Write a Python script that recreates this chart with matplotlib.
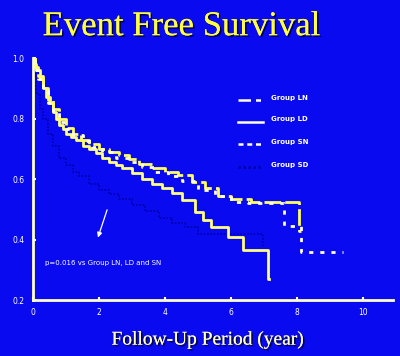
import matplotlib.pyplot as plt
import matplotlib.patheffects as pe

# Kaplan-Meier style step data (years, survival)
ln_t = [0, 0.05, 0.15, 0.3, 0.45, 0.6, 0.8, 1.0, 1.2, 1.45, 1.7, 2.0, 2.3, 2.6, 2.9, 3.2, 3.6, 4.0, 4.4, 4.8, 5.2, 5.6, 6.0, 6.6, 8.05, 8.1]
ln_s = [1.0, 0.97, 0.94, 0.90, 0.86, 0.83, 0.80, 0.77, 0.75, 0.73, 0.715, 0.70, 0.69, 0.68, 0.665, 0.65, 0.636, 0.625, 0.615, 0.59, 0.57, 0.545, 0.535, 0.525, 0.43, 0.43]

ld_t = [0, 0.05, 0.1, 0.2, 0.3, 0.4, 0.5, 0.6, 0.7, 0.8, 0.9, 1.0, 1.15, 1.3, 1.5, 1.7, 1.9, 2.1, 2.3, 2.5, 2.7, 3.0, 3.3, 3.6, 3.9, 4.2, 4.5, 4.9, 5.15, 5.4, 5.9, 6.37, 7.12, 7.14]
ld_s = [1.0, 0.98, 0.96, 0.93, 0.90, 0.87, 0.85, 0.82, 0.80, 0.78, 0.765, 0.75, 0.74, 0.73, 0.71, 0.70, 0.685, 0.67, 0.655, 0.645, 0.635, 0.62, 0.60, 0.585, 0.57, 0.555, 0.53, 0.49, 0.464, 0.44, 0.41, 0.365, 0.27, 0.27]

sn_t = [0, 0.05, 0.15, 0.3, 0.45, 0.6, 0.8, 1.0, 1.2, 1.5, 1.8, 2.1, 2.5, 2.9, 3.3, 3.7, 4.1, 4.5, 5.0, 5.5, 6.0, 6.5, 7.6, 8.1, 9.4]
sn_s = [0.99, 0.96, 0.93, 0.89, 0.85, 0.82, 0.79, 0.765, 0.745, 0.725, 0.705, 0.69, 0.67, 0.655, 0.64, 0.625, 0.61, 0.595, 0.565, 0.545, 0.525, 0.52, 0.445, 0.36, 0.36]

sd_t = [0, 0.05, 0.1, 0.2, 0.3, 0.45, 0.6, 0.8, 1.0, 1.2, 1.4, 1.7, 2.0, 2.3, 2.6, 3.0, 3.4, 3.8, 4.2, 4.6, 5.0, 6.95, 6.97]
sd_s = [1.0, 0.94, 0.88, 0.83, 0.80, 0.75, 0.71, 0.67, 0.645, 0.625, 0.61, 0.585, 0.565, 0.55, 0.535, 0.515, 0.495, 0.47, 0.455, 0.44, 0.42, 0.38, 0.38]

xticks = [0, 2, 4, 6, 8, 10]
yticks = [0.2, 0.4, 0.6, 0.8, 1.0]

bg = "#0a0af0"
fig = plt.figure(figsize=(4.0, 3.56), dpi=100, facecolor=bg)
ax = fig.add_axes([0.0825, 0.157, 0.9, 0.68])
ax.set_facecolor(bg)

ax.step(sd_t, sd_s, where="post", color="#0000a8", lw=1.2, ls=(0, (1, 1)))
ax.step(ld_t, ld_s, where="post", color="#ffff80", lw=2.0)
ax.step(ln_t, ln_s, where="post", color="#ffff60", lw=2.0, ls=(0, (6, 1.5)))
ax.step(sn_t, sn_s, where="post", color="#ffffe8", lw=2.0, ls=(0, (1.5, 2.5)))

# legend drawn by hand
leg_y = [0.86, 0.79, 0.715, 0.64]
leg_lab = ["Group LN", "Group LD", "Group SN", "Group SD"]
leg_style = [(0, (5, 2, 2, 2)), "-", (0, (2, 1.5)), (0, (1, 1))]
leg_col = ["white", "white", "white", "#0000a8"]
for yy, lab, st, c in zip(leg_y, leg_lab, leg_style, leg_col):
    ax.plot([6.2, 6.95], [yy, yy], color=c, lw=1.8, ls=st)
    ax.text(7.2, yy + 0.008, lab, color="white", fontsize=5, va="center", fontweight="bold")

ax.text(0.36, 0.322, "p=0.016 vs Group LN, LD and SN", color="white", fontsize=5, va="center")
ax.annotate("", xy=(1.94, 0.398), xytext=(2.27, 0.507),
            arrowprops=dict(arrowstyle="-|>", color="white", lw=0.9, mutation_scale=7))

ax.set_xlim(0, 10.9)
ax.set_ylim(0.2, 1.0)
ax.set_xticks(xticks)
ax.set_yticks(yticks)
ax.set_xticklabels([str(v) for v in xticks])
ax.set_yticklabels(["%.1f" % v for v in yticks])
ax.tick_params(colors="white", labelsize=5.5, length=2, width=1.5, direction="in", pad=6)
for side in ["top", "right"]:
    ax.spines[side].set_visible(False)
for side in ["left", "bottom"]:
    ax.spines[side].set_color("#ffffc8")
    ax.spines[side].set_linewidth(2.0)

shadow = [pe.withSimplePatchShadow(offset=(1.2, -1.2), shadow_rgbFace="#000040", alpha=0.9), pe.Normal()]
fig.text(0.455, 0.925, "Event Free Survival", color="#ffff40", fontsize=25,
         family="Liberation Serif", ha="center", va="center", path_effects=shadow)
fig.text(0.52, 0.045, "Follow-Up Period (year)", color="#ffffc0", fontsize=14,
         family="Liberation Serif", ha="center", va="center", path_effects=shadow)

fig.savefig("out.png", dpi=100, facecolor=bg)
